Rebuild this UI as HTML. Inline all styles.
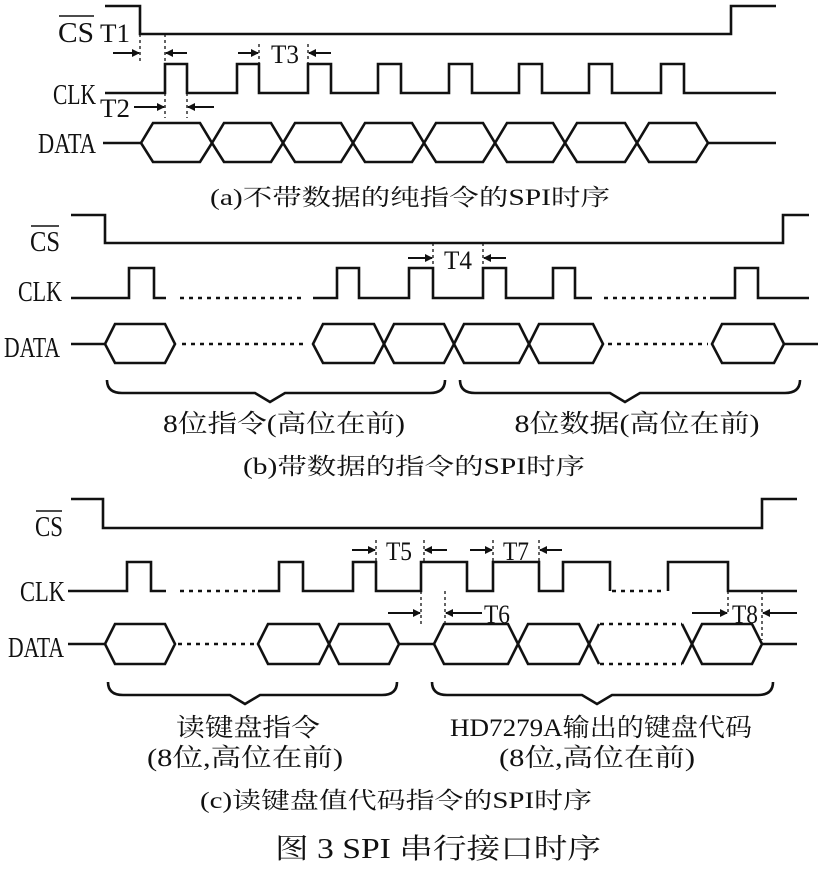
<!DOCTYPE html>
<html><head><meta charset="utf-8"><style>
html,body{margin:0;padding:0;background:#fff}
svg{display:block}
text{font-family:"Liberation Serif","Noto Serif CJK SC",serif;fill:#111}
.w{stroke:#111;stroke-width:2.6;fill:none;stroke-linejoin:miter}
.d{stroke:#111;stroke-width:2.4;fill:none;stroke-dasharray:4 5}
.v{stroke:#111;stroke-width:1.3;fill:none;stroke-dasharray:3 3}
.a{stroke:#111;stroke-width:2;fill:none}
</style></head><body>
<svg width="821" height="875" viewBox="0 0 821 875" xmlns="http://www.w3.org/2000/svg">
<defs><marker id="ar" markerWidth="8" markerHeight="8" refX="7" refY="4" orient="auto" markerUnits="userSpaceOnUse"><path d="M0,0 L8,4 L0,8 Z" fill="#111"/></marker></defs>

<!-- Panel A -->
<text x="58" y="42" font-size="28" textLength="36" lengthAdjust="spacingAndGlyphs">CS</text>
<line x1="59" y1="16" x2="94" y2="16" stroke="#111" stroke-width="1.6"/>
<text x="100" y="42" font-size="26" textLength="30" lengthAdjust="spacingAndGlyphs">T1</text>
<path class="w" d="M105,6 H140 V34 H731 V6 H776"/>
<path class="w" d="M105,93 H165 V64 H187 V93 H237 V64 H259 V93 H308 V64 H331 V93 H378 V64 H401 V93 H449 V64 H472 V93 H519 V64 H542 V93 H589 V64 H612 V93 H661 V64 H684 V93 H776"/>
<text x="53" y="104" font-size="28" textLength="43" lengthAdjust="spacingAndGlyphs">CLK</text>
<line class="v" x1="140" y1="34" x2="140" y2="64"/><line class="v" x1="165" y1="34" x2="165" y2="64"/>
<line class="a" x1="113" y1="53" x2="139" y2="53" marker-end="url(#ar)"/><line class="a" x1="187" y1="53" x2="166" y2="53" marker-end="url(#ar)"/>
<line class="v" x1="259" y1="44" x2="259" y2="64"/><line class="v" x1="308" y1="44" x2="308" y2="64"/>
<line class="a" x1="238" y1="53" x2="258" y2="53" marker-end="url(#ar)"/><line class="a" x1="331" y1="53" x2="309" y2="53" marker-end="url(#ar)"/>
<text x="271" y="63" font-size="26" textLength="28" lengthAdjust="spacingAndGlyphs">T3</text>
<line class="v" x1="165" y1="93" x2="165" y2="118"/><line class="v" x1="187" y1="93" x2="187" y2="118"/>
<text x="100" y="117" font-size="26" textLength="30" lengthAdjust="spacingAndGlyphs">T2</text>
<line class="a" x1="134" y1="107" x2="164" y2="107" marker-end="url(#ar)"/><line class="a" x1="214" y1="107" x2="188" y2="107" marker-end="url(#ar)"/>
<text x="38" y="153" font-size="28" textLength="58" lengthAdjust="spacingAndGlyphs">DATA</text>
<path class="w" d="M103,143 H141 M708,143 H776"/>
<path class="w" d="M141,143 L153,123 H200 L212,143 L200,162 H153 Z M212,143 L224,123 H271 L283,143 L271,162 H224 Z M283,143 L295,123 H341 L353,143 L341,162 H295 Z M353,143 L365,123 H412 L424,143 L412,162 H365 Z M424,143 L436,123 H483 L495,143 L483,162 H436 Z M495,143 L507,123 H553 L565,143 L553,162 H507 Z M565,143 L577,123 H625 L637,143 L625,162 H577 Z M637,143 L649,123 H696 L708,143 L696,162 H649 Z"/>
<text x="410" y="205" font-size="23" text-anchor="middle" textLength="400" lengthAdjust="spacingAndGlyphs">(a)不带数据的纯指令的SPI时序</text>

<!-- Panel B -->
<text x="30" y="251" font-size="28" textLength="30" lengthAdjust="spacingAndGlyphs">CS</text>
<line x1="31" y1="226" x2="59" y2="226" stroke="#111" stroke-width="1.6"/>
<path class="w" d="M71,215 H105 V243 H783 V215 H809"/>
<text x="18" y="301" font-size="28" textLength="44" lengthAdjust="spacingAndGlyphs">CLK</text>
<path class="w" d="M71,298 H129 V268 H154 V298 H166 M313,298 H337 V268 H359 V298 H409 V268 H433 V298 H483 V268 H506 V298 H553 V268 H575 V298 H592 M710,298 H735 V268 H758 V298 H809"/>
<path class="d" d="M180,298 H305 M604,298 H706"/>
<line class="v" x1="433" y1="243" x2="433" y2="268"/><line class="v" x1="483" y1="243" x2="483" y2="268"/>
<line class="a" x1="408" y1="258" x2="432" y2="258" marker-end="url(#ar)"/><line class="a" x1="506" y1="258" x2="484" y2="258" marker-end="url(#ar)"/>
<text x="444" y="269" font-size="26" textLength="28" lengthAdjust="spacingAndGlyphs">T4</text>
<text x="4" y="357" font-size="28" textLength="56" lengthAdjust="spacingAndGlyphs">DATA</text>
<path class="w" d="M71,344 H105 M784,344 H818"/>
<path class="w" d="M105,344 L115,324 H165 L175,344 L165,363 H115 Z M313,344 L323,324 H374 L384,344 L374,363 H323 Z M384,344 L394,324 H444 L454,344 L444,363 H394 Z M454,344 L464,324 H519 L529,344 L519,363 H464 Z M529,344 L539,324 H593 L603,344 L593,363 H539 Z M712,344 L722,324 H774 L784,344 L774,363 H722 Z"/>
<path class="d" d="M182,344 H308 M608,344 H708"/>
<path class="w" d="M107,380 Q107,393 122,393 H255 L270,402 L285,393 H430 Q445,393 445,380"/>
<path class="w" d="M460,380 Q460,393 475,393 H610 L625,402 L640,393 H785 Q800,393 800,380"/>
<text x="284" y="432" font-size="25" text-anchor="middle" textLength="242" lengthAdjust="spacingAndGlyphs">8位指令(高位在前)</text>
<text x="637" y="432" font-size="25" text-anchor="middle" textLength="245" lengthAdjust="spacingAndGlyphs">8位数据(高位在前)</text>
<text x="414" y="474" font-size="23" text-anchor="middle" textLength="342" lengthAdjust="spacingAndGlyphs">(b)带数据的指令的SPI时序</text>

<!-- Panel C -->
<text x="35" y="536" font-size="28" textLength="28" lengthAdjust="spacingAndGlyphs">CS</text>
<line x1="36" y1="511" x2="62" y2="511" stroke="#111" stroke-width="1.6"/>
<path class="w" d="M71,499 H103 V528 H762 V499 H797"/>
<text x="20" y="601" font-size="28" textLength="45" lengthAdjust="spacingAndGlyphs">CLK</text>
<path class="w" d="M68,591 H127 V562 H151 V591 H166 M258,591 H279 V562 H303 V591 H353 V562 H376 V591 H421 V562 H467 V591 H493 V562 H539 V591 H563 V562 H610 V591 M668,591 V562 H728 V591 H797"/>
<path class="d" d="M180,591 H255 M612,591 H665"/>
<line class="v" x1="376" y1="540" x2="376" y2="562"/><line class="v" x1="424" y1="540" x2="424" y2="562"/>
<line class="a" x1="352" y1="550" x2="375" y2="550" marker-end="url(#ar)"/><line class="a" x1="447" y1="550" x2="425" y2="550" marker-end="url(#ar)"/>
<text x="386" y="560" font-size="26" textLength="26" lengthAdjust="spacingAndGlyphs">T5</text>
<line class="v" x1="493" y1="540" x2="493" y2="562"/><line class="v" x1="539" y1="540" x2="539" y2="562"/>
<line class="a" x1="470" y1="550" x2="492" y2="550" marker-end="url(#ar)"/><line class="a" x1="562" y1="550" x2="540" y2="550" marker-end="url(#ar)"/>
<text x="503" y="560" font-size="26" textLength="26" lengthAdjust="spacingAndGlyphs">T7</text>
<line class="v" x1="421" y1="591" x2="421" y2="626"/><line class="v" x1="445" y1="591" x2="445" y2="626"/>
<line class="a" x1="388" y1="613" x2="420" y2="613" marker-end="url(#ar)"/><line class="a" x1="482" y1="613" x2="446" y2="613" marker-end="url(#ar)"/>
<text x="484" y="623" font-size="26" textLength="26" lengthAdjust="spacingAndGlyphs">T6</text>
<line class="v" x1="728" y1="591" x2="728" y2="614"/><line class="v" x1="762" y1="591" x2="762" y2="640"/>
<line class="a" x1="692" y1="613" x2="727" y2="613" marker-end="url(#ar)"/><line class="a" x1="797" y1="613" x2="763" y2="613" marker-end="url(#ar)"/>
<text x="732" y="623" font-size="26" textLength="26" lengthAdjust="spacingAndGlyphs">T8</text>
<text x="8" y="657" font-size="28" textLength="56" lengthAdjust="spacingAndGlyphs">DATA</text>
<path class="w" d="M68,644 H105 M399,644 H434 M762,644 H797"/>
<path class="w" d="M105,644 L115,624 H165 L175,644 L165,664 H115 Z M258,644 L268,624 H319 L329,644 L319,664 H268 Z M329,644 L339,624 H389 L399,644 L389,664 H339 Z M434,644 L444,624 H508 L518,644 L508,664 H444 Z M518,644 L528,624 H579 L589,644 L579,664 H528 Z M692,644 L702,624 H752 L762,644 L752,664 H702 Z"/>
<path class="w" d="M589,644 L599,624 M599,664 L589,644 M682,624 L692,644 L682,664"/>
<path class="d" d="M600,624 H682 M600,664 H682 M178,644 H256"/>
<path class="w" d="M108,682 Q108,695 123,695 H230 L245,704 L260,695 H382 Q397,695 397,682"/>
<path class="w" d="M432,682 Q432,695 447,695 H582 L597,704 L612,695 H758 Q773,695 773,682"/>
<text x="248" y="736" font-size="25" text-anchor="middle" textLength="144" lengthAdjust="spacingAndGlyphs">读键盘指令</text>
<text x="245" y="766" font-size="25" text-anchor="middle" textLength="196" lengthAdjust="spacingAndGlyphs">(8位,高位在前)</text>
<text x="601" y="736" font-size="25" text-anchor="middle" textLength="302" lengthAdjust="spacingAndGlyphs">HD7279A输出的键盘代码</text>
<text x="597" y="766" font-size="25" text-anchor="middle" textLength="196" lengthAdjust="spacingAndGlyphs">(8位,高位在前)</text>
<text x="396" y="808" font-size="23" text-anchor="middle" textLength="392" lengthAdjust="spacingAndGlyphs">(c)读键盘值代码指令的SPI时序</text>
<text x="438" y="858" font-size="28" text-anchor="middle" textLength="326" lengthAdjust="spacingAndGlyphs">图 3  SPI 串行接口时序</text>
</svg>
</body></html>
